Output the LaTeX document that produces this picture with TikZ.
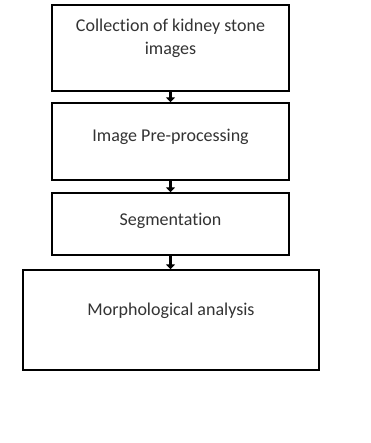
\documentclass[tikz,border=0pt]{standalone}
\usepackage{fontspec}
\setmainfont{Carlito}[Ligatures=CommonOff]
\usetikzlibrary{arrows.meta,positioning}

\begin{document}
\begin{tikzpicture}[x=1pt, y=-1pt,
    stage/.style={draw=black, line width=1.4pt, fill=white, align=center, text=black!80, text height=12pt, font=\fontsize{18}{23}\selectfont},
    arrow/.style={-{Triangle[length=5pt,width=9pt]}, line width=3.4pt, draw=black}
]
\useasboundingbox (0,0) rectangle (370,443);
\node[stage, minimum width=237pt, minimum height=86pt, text height=35pt, text depth=21pt] (collect) at (170.5,48) {Collection of kidney stone\\images};
\node[stage, minimum width=237pt, minimum height=77pt, text depth=11pt] (prep) at (170.5,141.5) {Image Pre-processing};
\node[stage, minimum width=237pt, minimum height=62pt, text depth=10pt] (seg) at (170.5,224) {Segmentation};
\node[stage, minimum width=296pt, minimum height=100pt, text depth=22pt] (morph) at (171,320) {Morphological analysis};
\draw[arrow] (collect.south) -- (prep.north);
\draw[arrow] (prep.south) -- (seg.north);
\draw[arrow] (seg.south) -- (seg.south |- morph.north);
\end{tikzpicture}
\end{document}
